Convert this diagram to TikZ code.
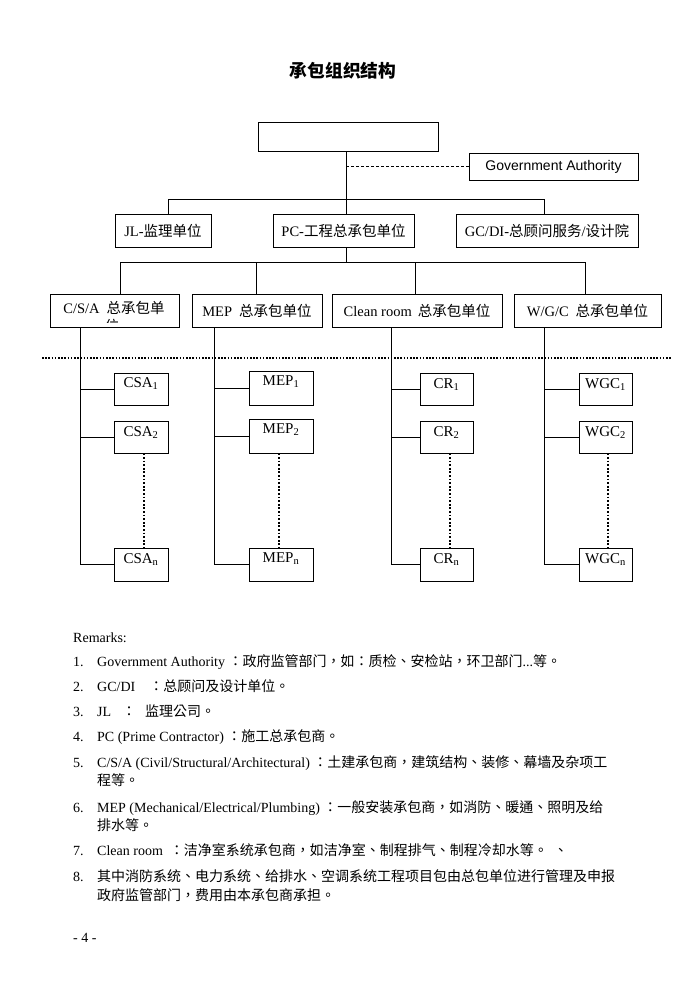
\documentclass[tikz,border=0pt]{standalone}
\usepackage{fontspec}
\setmainfont{Liberation Serif}
\newfontfamily\cjk{Noto Sans CJK TC}
\newfontfamily\arialf{Liberation Sans}
\newcommand{\zh}[1]{{\cjk #1}}
\begin{document}
\begin{tikzpicture}[x=1pt,y=-1pt,
  box/.style={draw, line width=0.8pt, inner sep=0pt, font=\fontsize{14.5}{17}\selectfont},
  cbox/.style={draw, line width=0.8pt, inner sep=0pt},
  ctext/.style={anchor=base, inner sep=0pt, font=\fontsize{15}{18}\selectfont},
  rowtext/.style={anchor=base, inner sep=0pt, font=\fontsize{14.5}{17}\selectfont},
  conn/.style={line width=0.8pt},
  vdots/.style={line width=1.8pt, dash pattern=on 1.8pt off 1.8pt},
  rtext/.style={anchor=base west, inner sep=0pt, font=\fontsize{14}{17}\selectfont},
]
\fill[white] (0,0) rectangle (700,990);
\useasboundingbox (0,0) rectangle (700,990);

% title
\node[inner sep=0pt, font=\cjk\bfseries\fontsize{17.7}{20}\selectfont] (title) at (343,71) {承包组织结构};

% top levels
\node[box, minimum width=180pt, minimum height=29pt] (top) at (348,136.5) {};
\node[box, minimum width=169pt, minimum height=27pt, font=\arialf\fontsize{14}{17}\selectfont] (ga) at (553.5,166.5) {Government Authority};
\node[box, minimum width=96pt, minimum height=33pt] (jl) at (163,230.5) {JL-\zh{监理单位}};
\node[box, minimum width=141pt, minimum height=33pt] (pc) at (343.5,230.5) {PC-\zh{工程总承包单位}};
\node[box, minimum width=182pt, minimum height=33pt] (gc) at (547,230.5) {GC/DI-\zh{总顾问服务}/\zh{设计院}};

% third row
\node[box, minimum width=129pt, minimum height=33pt] (csa) at (114.5,310.5) {};
\node[rowtext] (csat) at (114,313) {C/S/A\hspace{7pt}\zh{总承包单}};
\begin{scope}
  \clip (51,295) rectangle (178,322);
  \node[rowtext] (csawei) at (112,331) {\zh{位}};
\end{scope}
\node[box, minimum width=130pt, minimum height=33pt] (mep) at (257,310.5) {MEP\hspace{7pt}\zh{总承包单位}};
\node[box, minimum width=170pt, minimum height=33pt] (cln) at (417,310.5) {Clean room\hspace{6pt}\zh{总承包单位}};
\node[box, minimum width=147pt, minimum height=33pt] (wgc) at (587.5,310.5) {W/G/C\hspace{7pt}\zh{总承包单位}};

% branch coordinates
\coordinate (trunk) at (346,0);
\coordinate (bar1) at (0,199);
\coordinate (bar2) at (0,262);
\coordinate (jlx) at (168,0);
\coordinate (gcx) at (544,0);
\coordinate (b1) at (120,0);
\coordinate (b2) at (256,0);
\coordinate (b3) at (415,0);
\coordinate (b4) at (585,0);

\draw[conn] (top.south -| trunk) -- (pc.north -| trunk);
\draw[conn, dash pattern=on 3pt off 2pt] (trunk |- ga.west) -- (ga.west);
\draw[conn] (jl.north -| jlx) |- (bar1 -| gcx) -- (gc.north -| gcx);
\draw[conn] (pc.south -| trunk) -- (bar2 -| trunk);
\draw[conn] (csa.north -| b1) |- (bar2 -| b4) -- (wgc.north -| b4);
\draw[conn] (bar2 -| b2) -- (mep.north -| b2);
\draw[conn] (bar2 -| b3) -- (cln.north -| b3);

% separator
\coordinate (sepL) at (42,358);
\coordinate (sepR) at (672,358);
\draw[line width=1.8pt, dash pattern=on 1.6pt off 1.6pt] (sepL) -- (sepR);

% column coordinates
\coordinate (c1) at (80,0);
\coordinate (c2) at (214,0);
\coordinate (c3) at (391,0);
\coordinate (c4) at (544,0);
\coordinate (d1) at (144,0);
\coordinate (d2) at (279,0);
\coordinate (d3) at (450,0);
\coordinate (d4) at (608,0);

% CSA column
\node[cbox, minimum width=54pt, minimum height=32pt] (csa1) at (141,389) {};
\node[cbox, minimum width=54pt, minimum height=32pt] (csa2) at (141,437) {};
\node[cbox, minimum width=54pt, minimum height=33pt] (csan) at (141,564.5) {};
\node[ctext] (csa1t) at (141,387.5) {CSA\textsubscript{1}};
\node[ctext] (csa2t) at (141,436) {CSA\textsubscript{2}};
\node[ctext] (csant) at (141,563) {CSA\textsubscript{n}};
\draw[conn] (csa.south -| c1) |- (csan.west);
\draw[conn] (c1 |- csa1.west) -- (csa1.west);
\draw[conn] (c1 |- csa2.west) -- (csa2.west);
\draw[vdots] (csa2.south -| d1) -- (csan.north -| d1);

% MEP column
\node[cbox, minimum width=64pt, minimum height=34pt] (mep1) at (281,388) {};
\node[cbox, minimum width=64pt, minimum height=34pt] (mep2) at (281,436) {};
\node[cbox, minimum width=64pt, minimum height=33pt] (mepn) at (281,564.5) {};
\node[ctext] (mep1t) at (281,385.5) {MEP\textsubscript{1}};
\node[ctext] (mep2t) at (281,433.5) {MEP\textsubscript{2}};
\node[ctext] (mepnt) at (281,562) {MEP\textsubscript{n}};
\draw[conn] (mep.south -| c2) |- (mepn.west);
\draw[conn] (c2 |- mep1.west) -- (mep1.west);
\draw[conn] (c2 |- mep2.west) -- (mep2.west);
\draw[vdots] (mep2.south -| d2) -- (mepn.north -| d2);

% CR column
\node[cbox, minimum width=53pt, minimum height=32pt] (cr1) at (446.5,389) {};
\node[cbox, minimum width=53pt, minimum height=32pt] (cr2) at (446.5,437) {};
\node[cbox, minimum width=53pt, minimum height=33pt] (crn) at (446.5,564.5) {};
\node[ctext] (cr1t) at (446.5,388) {CR\textsubscript{1}};
\node[ctext] (cr2t) at (446.5,436) {CR\textsubscript{2}};
\node[ctext] (crnt) at (446.5,563) {CR\textsubscript{n}};
\draw[conn] (cln.south -| c3) |- (crn.west);
\draw[conn] (c3 |- cr1.west) -- (cr1.west);
\draw[conn] (c3 |- cr2.west) -- (cr2.west);
\draw[vdots] (cr2.south -| d3) -- (crn.north -| d3);

% WGC column
\node[cbox, minimum width=53pt, minimum height=32pt] (wgc1) at (605.5,389) {};
\node[cbox, minimum width=53pt, minimum height=32pt] (wgc2) at (605.5,437) {};
\node[cbox, minimum width=53pt, minimum height=33pt] (wgcn) at (605.5,564.5) {};
\node[ctext] (wgc1t) at (605.5,388) {WGC\textsubscript{1}};
\node[ctext] (wgc2t) at (605.5,436) {WGC\textsubscript{2}};
\node[ctext] (wgcnt) at (605.5,563) {WGC\textsubscript{n}};
\draw[conn] (wgc.south -| c4) |- (wgcn.west);
\draw[conn] (c4 |- wgc1.west) -- (wgc1.west);
\draw[conn] (c4 |- wgc2.west) -- (wgc2.west);
\draw[vdots] (wgc2.south -| d4) -- (wgcn.north -| d4);

% remarks
\node[rtext] (r0) at (73,642) {Remarks:};
\node[rtext] (n1) at (73,666) {1.};
\node[rtext] (t1) at (97,666) {Government Authority \zh{：政府监管部门，如：质检、安检站，环卫部门}...\zh{等。}};
\node[rtext] (n2) at (73,691) {2.};
\node[rtext] (t2) at (97,691) {GC/DI\hspace{14pt}\zh{：总顾问及设计单位。}};
\node[rtext] (n3) at (73,716) {3.};
\node[rtext] (t3) at (97,716) {JL\hspace{11pt}\zh{：}\hspace{9pt}\zh{监理公司。}};
\node[rtext] (n4) at (73,741) {4.};
\node[rtext] (t4) at (97,741) {PC (Prime Contractor) \zh{：施工总承包商。}};
\node[rtext] (n5) at (73,767) {5.};
\node[rtext] (t5) at (97,767) {C/S/A (Civil/Structural/Architectural) \zh{：土建承包商，建筑结构、装修、幕墙及杂项工}};
\node[rtext] (t5b) at (97,785) {\zh{程等。}};
\node[rtext] (n6) at (73,812) {6.};
\node[rtext] (t6) at (97,812) {MEP (Mechanical/Electrical/Plumbing) \zh{：一般安装承包商，如消防、暖通、照明及给}};
\node[rtext] (t6b) at (97,830) {\zh{排水等。}};
\node[rtext] (n7) at (73,855) {7.};
\node[rtext] (t7) at (97,855) {Clean room\hspace{7pt}\zh{：洁净室系统承包商，如洁净室、制程排气、制程冷却水等。}\hspace{6pt}\zh{、}};
\node[rtext] (n8) at (73,881) {8.};
\node[rtext] (t8) at (97,881) {\zh{其中消防系统、电力系统、给排水、空调系统工程项目包由总包单位进行管理及申报}};
\node[rtext] (t8b) at (97,900) {\zh{政府监管部门，费用由本承包商承担。}};
\node[rtext] (pg) at (73,942) {- 4 -};
\end{tikzpicture}
\end{document}
